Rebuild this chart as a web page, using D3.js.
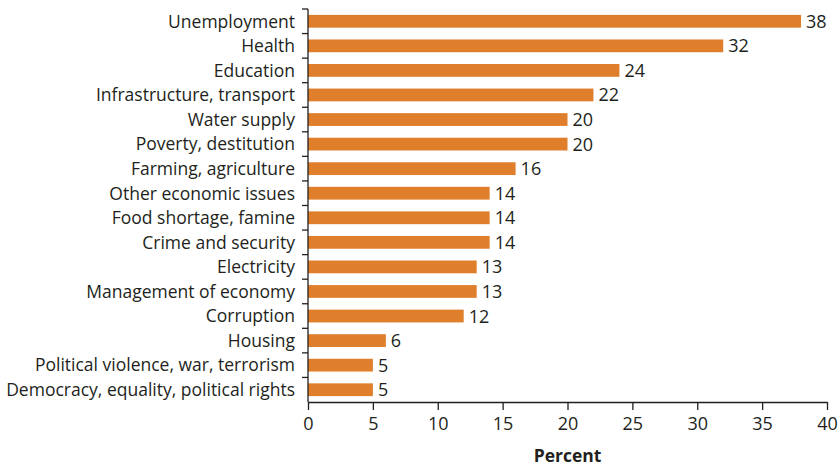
<!DOCTYPE html>
<html>
<head>
<meta charset="utf-8">
<script src="https://cdn.jsdelivr.net/npm/d3@7"></script>
<style>
  body { margin: 0; background: #fff; }
  svg text { font-family: "Open Sans", "Noto Sans", sans-serif; fill: #231f20; }
</style>
</head>
<body>
<svg id="chart" width="840" height="468"></svg>
<script>
const categories = [
  "Unemployment", "Health", "Education", "Infrastructure, transport",
  "Water supply", "Poverty, destitution", "Farming, agriculture",
  "Other economic issues", "Food shortage, famine", "Crime and security",
  "Electricity", "Management of economy", "Corruption", "Housing",
  "Political violence, war, terrorism", "Democracy, equality, political rights"
];
const values = [38, 32, 24, 22, 20, 20, 16, 14, 14, 14, 13, 13, 12, 6, 5, 5];
const xTicks = [0, 5, 10, 15, 20, 25, 30, 35, 40];
const xTitle = "Percent";

const svg = d3.select("#chart");
const margin = { left: 308, right: 13, top: 9, bottom: 66 };
const W = 840, H = 468;

const x = d3.scaleLinear().domain([0, 40]).range([margin.left, W - margin.right]);
const y = d3.scaleBand().domain(categories).range([margin.top, H - margin.bottom]).paddingInner(0.48).paddingOuter(0.24);
const yb = d3.scaleBand().domain(categories).range([margin.top, H - margin.bottom]);

// bars
svg.append("g").selectAll("rect").data(values).join("rect")
  .attr("x", x(0))
  .attr("y", (d, i) => y(categories[i]))
  .attr("width", d => x(d) - x(0))
  .attr("height", y.bandwidth())
  .attr("fill", "#e07f2b");

// value labels
svg.append("g").selectAll("text").data(values).join("text")
  .attr("x", d => x(d) + 5)
  .attr("y", (d, i) => y(categories[i]) + y.bandwidth() / 2)
  .attr("dy", "0.36em")
  .attr("font-size", 18)
  .text(d => d);

// category axis: ticks at band boundaries
const yAxis = svg.append("g");
yAxis.append("line")
  .attr("x1", x(0)).attr("x2", x(0))
  .attr("y1", margin.top).attr("y2", H - margin.bottom)
  .attr("stroke", "#231f20").attr("stroke-width", 1.3);
const bounds = categories.map(c => yb(c));
yAxis.selectAll("line.tick").data(bounds).join("line")
  .attr("class", "tick")
  .attr("x1", x(0) - 6).attr("x2", x(0))
  .attr("y1", d => d).attr("y2", d => d)
  .attr("stroke", "#231f20").attr("stroke-width", 1.3);
yAxis.selectAll("text").data(categories).join("text")
  .attr("x", x(0) - 13)
  .attr("y", d => yb(d) + yb.bandwidth() / 2)
  .attr("dy", "0.36em")
  .attr("text-anchor", "end")
  .attr("font-size", 17.5)
  .text(d => d);

// value axis
const xAxis = svg.append("g")
  .attr("transform", `translate(0,${H - margin.bottom})`)
  .call(d3.axisBottom(x).tickValues(xTicks).tickSize(8).tickSizeOuter(0).tickPadding(7));
xAxis.select(".domain").attr("stroke", "#231f20").attr("stroke-width", 1.3);
xAxis.selectAll(".tick line").attr("stroke", "#231f20").attr("stroke-width", 1.3);
xAxis.selectAll(".tick text").attr("font-size", 18).attr("fill", "#231f20")
  .style("font-family", "'Open Sans', 'Noto Sans', sans-serif");

svg.append("text")
  .attr("x", x(20))
  .attr("y", 462)
  .attr("text-anchor", "middle")
  .attr("font-size", 17.5)
  .attr("font-weight", "bold")
  .text(xTitle);
</script>
</body>
</html>
